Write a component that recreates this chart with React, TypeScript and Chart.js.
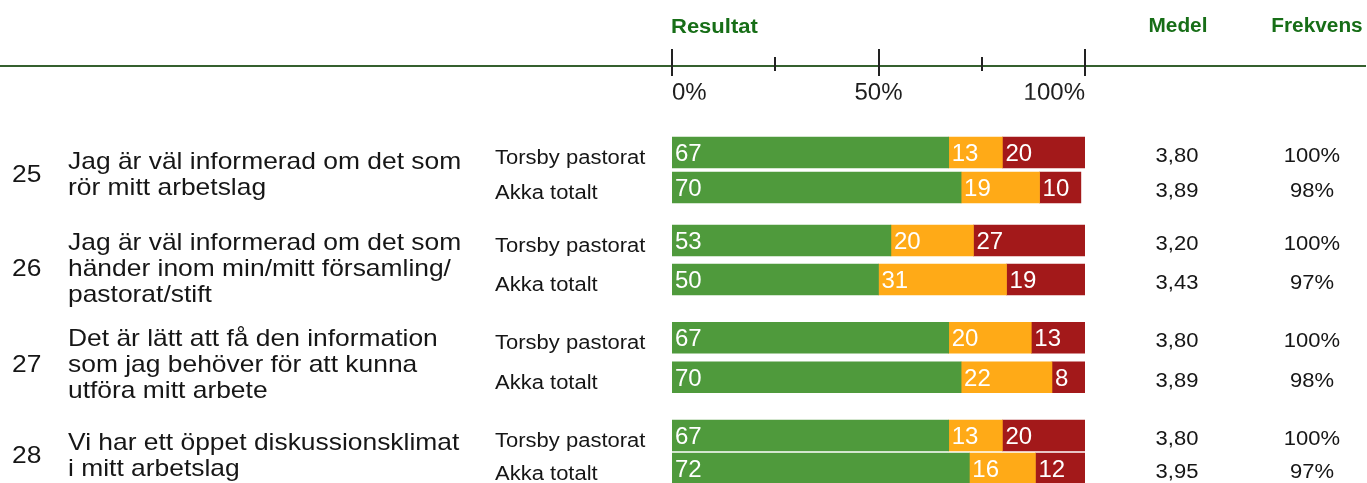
import React, { useEffect, useRef } from 'react';
import { Chart, registerables } from 'chart.js';

Chart.register(...registerables);

// ---------- data ----------
const questionNumbers = ['25', '26', '27', '28'];
const questionLines = [
  ['Jag är väl informerad om det som', 'rör mitt arbetslag'],
  ['Jag är väl informerad om det som', 'händer inom min/mitt församling/', 'pastorat/stift'],
  ['Det är lätt att få den information', 'som jag behöver för att kunna', 'utföra mitt arbete'],
  ['Vi har ett öppet diskussionsklimat', 'i mitt arbetslag'],
];
const units = ['Torsby pastorat', 'Akka totalt'];
const positive = [[67, 70], [53, 50], [67, 70], [67, 72]];
const neutral = [[13, 19], [20, 31], [20, 22], [13, 16]];
const negative = [[20, 10], [27, 19], [13, 8], [20, 12]];
const medel = [['3,80', '3,89'], ['3,20', '3,43'], ['3,80', '3,89'], ['3,80', '3,95']];
const frekvens = [['100%', '98%'], ['100%', '97%'], ['100%', '98%'], ['100%', '97%']];
const scaleTicks = [0, 25, 50, 75, 100];
const labelledTicks = [0, 50, 100];
const headerResult = 'Resultat';
const headerMedel = 'Medel';
const headerFrekvens = 'Frekvens';

// ---------- layout & style ----------
const W = 1367;
const H = 483;
const PLOT_LEFT = 672;
const PLOT_RIGHT = 1085;
const AXIS_Y = 66;
const groupBarCenters = [[152.5, 187.5], [240, 279], [337.5, 377], [435.5, 468.5]];
const groupTextCenters = [173, 267, 363, 454];
const FONT = '"Liberation Sans", Arial, Helvetica, sans-serif';
const GREEN = '#4F9A3C';
const ORANGE = '#FFAA17';
const RED = '#A3191A';
const HEAD_GREEN = '#176E17';
const LINE_GREEN = '#35602F';
const TEXT = '#161616';

const valueLabels = {
  id: 'valueLabels',
  afterDatasetsDraw(chart: any) {
    const ctx = chart.ctx;
    ctx.save();
    ctx.font = `24px ${FONT}`;
    ctx.fillStyle = '#ffffff';
    ctx.textAlign = 'left';
    ctx.textBaseline = 'alphabetic';
    chart.data.datasets.forEach((ds: any, di: number) => {
      const meta = chart.getDatasetMeta(di);
      meta.data.forEach((el: any, i: number) => {
        const v = ds.data[i];
        const { x, y, base } = el.getProps(['x', 'y', 'base'], true);
        ctx.fillText(String(v), Math.min(x, base) + 3, y + 8.6);
      });
    });
    ctx.restore();
  },
};

const headerAxis = {
  id: 'headerAxis',
  beforeDraw(chart: any) {
    const ctx = chart.ctx;
    const xs = chart.scales.x;
    ctx.save();
    ctx.strokeStyle = LINE_GREEN;
    ctx.lineWidth = 2;
    ctx.beginPath();
    ctx.moveTo(0, AXIS_Y);
    ctx.lineTo(W - 1, AXIS_Y);
    ctx.stroke();
    ctx.strokeStyle = '#222222';
    scaleTicks.forEach((v) => {
      const major = labelledTicks.includes(v);
      const px = Math.round(xs.getPixelForValue(v));
      ctx.beginPath();
      ctx.moveTo(px, major ? 49 : 57);
      ctx.lineTo(px, major ? 76 : 71);
      ctx.stroke();
    });
    ctx.restore();
  },
};

function HeaderAxis() {
  const ref = useRef<HTMLCanvasElement>(null);
  const h = 110;
  useEffect(() => {
    const chart = new Chart(ref.current as HTMLCanvasElement, {
      type: 'bar',
      data: { labels: [], datasets: [] },
      options: {
        animation: false,
        responsive: false,
        maintainAspectRatio: false,
        layout: { padding: { left: PLOT_LEFT, right: W - PLOT_RIGHT, top: 49, bottom: 10.2 } },
        plugins: { legend: { display: false }, tooltip: { enabled: false } },
        scales: {
          x: {
            type: 'linear',
            position: 'bottom',
            offset: false,
            min: 0,
            max: 100,
            grid: { display: false, drawTicks: false, offset: false },
            border: { display: false },
            ticks: {
              stepSize: 50,
              align: 'inner',
              padding: 5,
              color: '#1e1e1e',
              font: { size: 24, family: FONT },
              callback: (v: any) => `${v}%`,
            },
          },
          y: { display: false },
        },
      } as any,
      plugins: [headerAxis],
    });
    return () => chart.destroy();
  }, []);
  return (
    <canvas
      ref={ref}
      width={W}
      height={h}
      style={{ position: 'absolute', left: 0, top: 0, width: W, height: h }}
    />
  );
}

function GroupBars({ g }: { g: number }) {
  const ref = useRef<HTMLCanvasElement>(null);
  const [c0, c1] = groupBarCenters[g];
  const step = c1 - c0;
  const top = c0 - step / 2;
  const h = Math.round(step * 2);
  useEffect(() => {
    const chart = new Chart(ref.current as HTMLCanvasElement, {
      type: 'bar',
      data: {
        labels: units,
        datasets: [
          { label: 'Positiv', data: positive[g], backgroundColor: GREEN },
          { label: 'Neutral', data: neutral[g], backgroundColor: ORANGE },
          { label: 'Negativ', data: negative[g], backgroundColor: RED },
        ],
      },
      options: {
        indexAxis: 'y',
        animation: false,
        responsive: false,
        maintainAspectRatio: false,
        layout: { padding: { left: PLOT_LEFT, right: W - PLOT_RIGHT, top: 0, bottom: 0 } },
        plugins: { legend: { display: false }, tooltip: { enabled: false } },
        datasets: { bar: { barThickness: 31, borderWidth: 0 } },
        scales: {
          x: { type: 'linear', min: 0, max: 100, stacked: true, display: false },
          y: { type: 'category', stacked: true, display: false },
        },
      } as any,
      plugins: [valueLabels],
    });
    return () => chart.destroy();
  }, [g]);
  return (
    <canvas
      ref={ref}
      width={W}
      height={h}
      style={{ position: 'absolute', left: 0, top, width: W, height: h }}
    />
  );
}

type TxtProps = {
  x: number;
  cy: number;
  text: string;
  size: number;
  bold?: boolean;
  color?: string;
  align?: 'left' | 'center';
  sx?: number;
  lh?: number;
};

function Txt({ x, cy, text, size, bold, color = TEXT, align = 'left', sx = 1.1, lh }: TxtProps) {
  const L = lh ?? Math.round(size * 1.2);
  const base: React.CSSProperties = {
    position: 'absolute',
    top: cy - L / 2,
    height: L,
    lineHeight: `${L}px`,
    fontSize: size,
    fontWeight: bold ? 700 : 400,
    fontFamily: FONT,
    color,
    whiteSpace: 'nowrap',
    transform: `scaleX(${sx})`,
  };
  if (align === 'center') {
    return (
      <div style={{ ...base, left: x - 200, width: 400, textAlign: 'center', transformOrigin: 'center center' }}>
        {text}
      </div>
    );
  }
  return <div style={{ ...base, left: x, transformOrigin: 'left center' }}>{text}</div>;
}

export default function App() {
  const texts: React.ReactNode[] = [];
  texts.push(<Txt key="hr" x={671} cy={25.5} text={headerResult} size={20} bold color={HEAD_GREEN} sx={1.1} />);
  texts.push(<Txt key="hm" x={1177.5} cy={24.5} text={headerMedel} size={20} bold color={HEAD_GREEN} align="center" sx={1.04} />);
  texts.push(<Txt key="hf" x={1317} cy={24.5} text={headerFrekvens} size={20} bold color={HEAD_GREEN} align="center" sx={1.04} />);

  questionNumbers.forEach((num, g) => {
    const yc = groupTextCenters[g];
    texts.push(<Txt key={`n${g}`} x={12} cy={yc} text={num} size={24} />);
    const lines = questionLines[g];
    lines.forEach((line, i) => {
      const cy = yc - ((lines.length - 1) * 26) / 2 + i * 26;
      texts.push(<Txt key={`q${g}-${i}`} x={68} cy={cy} text={line} size={24} />);
    });
    units.forEach((u, r) => {
      const bc = groupBarCenters[g][r];
      texts.push(<Txt key={`u${g}-${r}`} x={495} cy={bc + 4.5} text={u} size={20} />);
      texts.push(<Txt key={`m${g}-${r}`} x={1177} cy={bc + 2.5} text={medel[g][r]} size={20} align="center" />);
      texts.push(<Txt key={`f${g}-${r}`} x={1312} cy={bc + 2.5} text={frekvens[g][r]} size={20} align="center" />);
    });
  });

  return (
    <div
      style={{
        position: 'relative',
        width: W,
        height: H,
        overflow: 'hidden',
        background: '#ffffff',
        fontFamily: FONT,
      }}
    >
      <style>{'html,body{margin:0;padding:0;overflow:hidden;background:#fff;}'}</style>
      <HeaderAxis />
      {questionNumbers.map((_, g) => (
        <GroupBars key={g} g={g} />
      ))}
      {texts}
    </div>
  );
}
